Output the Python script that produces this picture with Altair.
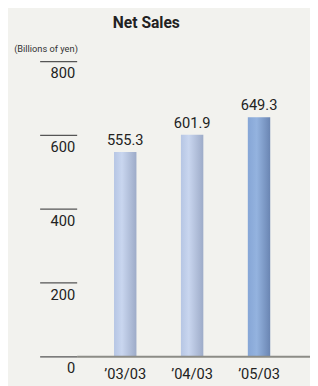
import altair as alt
import pandas as pd

years = ["’03/03", "’04/03", "’05/03"]
sales = [555.3, 601.9, 649.3]
highlight = [False, False, True]
tick_values = [0, 200, 400, 600, 800]
tick_labels = ["0", "200", "400", "600", "800"]
unit_label = "(Billions of yen)"
title_text = "Net Sales"

FONT = "Roboto"
TXT = "#222222"
FS = 15

bars_df = pd.DataFrame({
    "year": years,
    "sales": sales,
    "hl": highlight,
    "label": [f"{v:.1f}" for v in sales],
})
ticks_df = pd.DataFrame({"v": tick_values, "label": tick_labels})
zero_df = pd.DataFrame({"v": [0]})
unit_df = pd.DataFrame({"t": [unit_label]})
title_df = pd.DataFrame({"t": [title_text]})

W, H = 277, 303

x_enc = alt.X(
    "year:N",
    sort=years,
    scale=alt.Scale(range=[53, 259], paddingInner=0, paddingOuter=0),
    axis=None,
)
y_scale = alt.Scale(domain=[0, 800], nice=False, zero=True)

light = alt.Gradient(
    gradient="linear", x1=0, x2=1, y1=0, y2=0,
    stops=[alt.GradientStop(offset=0, color="#b6c6e4"),
           alt.GradientStop(offset=0.35, color="#c9d6ef"),
           alt.GradientStop(offset=1, color="#9dabc8")],
)
dark = alt.Gradient(
    gradient="linear", x1=0, x2=1, y1=0, y2=0,
    stops=[alt.GradientStop(offset=0, color="#86a6d6"),
           alt.GradientStop(offset=0.4, color="#94b3df"),
           alt.GradientStop(offset=1, color="#6a85b2")],
)

base = alt.Chart(bars_df)
bars_light = base.transform_filter("!datum.hl").mark_bar(width=23, color=light).encode(
    x=x_enc, y=alt.Y("sales:Q", scale=y_scale, axis=None))
bars_dark = base.transform_filter("datum.hl").mark_bar(width=23, color=dark).encode(
    x=x_enc, y=alt.Y("sales:Q", scale=y_scale, axis=None))
values = base.mark_text(dy=-12, baseline="middle", fontSize=FS, font=FONT, color=TXT).encode(
    x=x_enc, y=alt.Y("sales:Q", scale=y_scale, axis=None), text="label:N")
cats = base.mark_text(baseline="alphabetic", fontSize=FS, font=FONT, color=TXT).encode(
    x=x_enc, y=alt.value(H + 23), text="year:N")

baseline = alt.Chart(zero_df).mark_rule(color="#8c8c86", strokeWidth=2).encode(
    y=alt.Y("v:Q", scale=y_scale, axis=None), x=alt.value(38), x2=alt.value(W))
tick_rules = alt.Chart(ticks_df).mark_rule(color="#555555", strokeWidth=1.3).encode(
    y=alt.Y("v:Q", scale=y_scale, axis=None), x=alt.value(0), x2=alt.value(38))
tick_text = alt.Chart(ticks_df).mark_text(align="right", baseline="middle", dy=12, fontSize=FS,
                                          font=FONT, color=TXT).encode(
    y=alt.Y("v:Q", scale=y_scale, axis=None), x=alt.value(36), text="label:N")
unit = alt.Chart(unit_df).mark_text(fontSize=9.5, font=FONT, color="#333333", align="center",
                                    baseline="middle").encode(
    x=alt.value(6), y=alt.value(-13), text="t:N")
title = alt.Chart(title_df).mark_text(fontSize=16, font=FONT, fontWeight="bold", color=TXT,
                                      align="center", baseline="alphabetic").encode(
    x=alt.value(109), y=alt.value(-34), text="t:N")

chart = alt.layer(bars_light, bars_dark, baseline, tick_rules, tick_text, values, cats, unit,
                  title).properties(
    width=W, height=H,
    padding={"left": 33, "top": 50, "right": 0, "bottom": 25},
    autosize=alt.AutoSizeParams(type="none"),
    background="#f2f2ee",
).configure_view(stroke=None)

chart.save("out.html", embed_options={"renderer": "svg", "actions": False})
